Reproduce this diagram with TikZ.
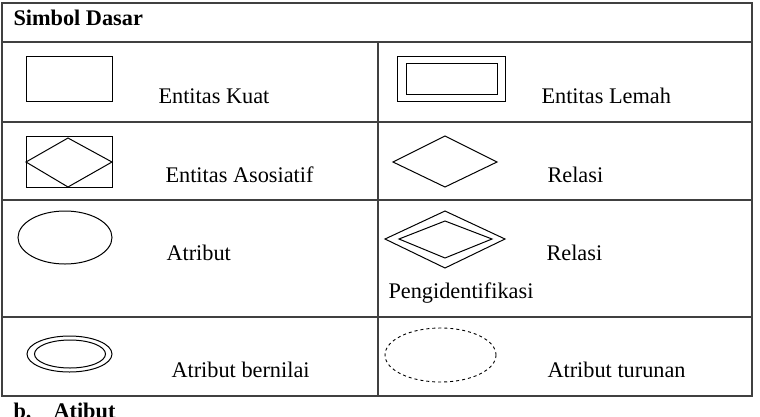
\documentclass[tikz,border=0pt]{standalone}
\usepackage{fontspec}
\setmainfont{Liberation Serif}
\usepackage{tikz}

\begin{document}
\begin{tikzpicture}[x=1pt,y=-1pt,line width=1pt,
    rule/.style={black!75,line width=1.2pt},
    lbl/.style={anchor=base west,inner sep=0pt,font=\fontsize{22.3}{26}\selectfont}]
        \useasboundingbox (0,0) rectangle (760,416);
        % table
        \draw[rule] (2,3) rectangle (752,396);
        \foreach \y in {42,122,200,317}{
            \draw[rule] (2,\y) -- (752,\y);
        }
        \draw[rule] (378,42) -- (378,396);
        \node[lbl,font=\fontsize{22.3}{26}\selectfont\bfseries] (head) at (13,25) {Simbol Dasar};
        % left column
        \draw (26,56) rectangle (112,101);
        \node[lbl] (kuat) at (158,103) {Entitas Kuat};
        \draw (26,136) rectangle (112,187);
        \draw (26,162) -- (68,138) -- (112,162) -- (68,187) -- cycle;
        \node[lbl] (asos) at (165,182) {Entitas Asosiatif};
        \draw (65,237.5) ellipse (47 and 26.5);
        \node[lbl] (atr) at (166,260) {Atribut};
        \draw (69.5,354) ellipse (42.5 and 18);
        \draw (70,354) ellipse (35.5 and 14);
        \node[lbl] (multi) at (171,377) {Atribut bernilai};
        % right column
        \draw (397,56) rectangle (505,101);
        \draw (406,63) rectangle (497,94);
        \node[lbl] (lemah) at (541,103) {Entitas Lemah};
        \draw (393,162) -- (445,136) -- (497,162) -- (445,187) -- cycle;
        \node[lbl] (rel) at (547,182) {Relasi};
        \draw (385,239) -- (445,211) -- (505,239) -- (445,268) -- cycle;
        \draw (399,239) -- (445,221) -- (492,239) -- (445,258) -- cycle;
        \node[lbl] (relid) at (546,260) {Relasi};
        \node[lbl] (ident) at (388,298) {Pengidentifikasi};
        \draw[dashed,line width=0.9pt] (440.5,355) ellipse (55.5 and 27);
        \node[lbl] (turun) at (547,377) {Atribut turunan};
        % next heading, cut off
        \node[lbl,font=\fontsize{22.3}{26}\selectfont\bfseries] (nextb) at (13,418) {b.};
        \node[lbl,font=\fontsize{22.3}{26}\selectfont\bfseries] (nexthead) at (53,418) {Atibut};
\end{tikzpicture}
\end{document}
